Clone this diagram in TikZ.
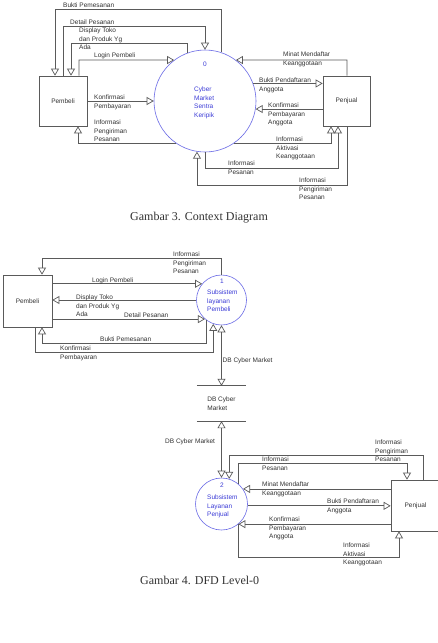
\documentclass[tikz,border=0pt]{standalone}
\usepackage{fontspec}
\setmainfont{Liberation Serif}
\newfontfamily\arialf{Liberation Sans}
\usetikzlibrary{arrows.meta}
\definecolor{procblue}{RGB}{105,105,230}
\definecolor{proctext}{RGB}{60,60,215}
\definecolor{linegray}{RGB}{90,90,90}
\definecolor{txtgray}{RGB}{50,50,50}
\begin{document}
\begin{tikzpicture}[x=1pt,y=-1pt,
  lbl/.style={font=\arialf\fontsize{6.5}{8.5}\selectfont, text=txtgray, inner sep=0pt, anchor=north west, align=left},
  ent/.style={draw=linegray, line width=0.7pt, rectangle, inner sep=0pt, font=\arialf\fontsize{6.5}{8.5}\selectfont, text=txtgray},
  proc/.style={draw=procblue, line width=0.6pt, circle, inner sep=0pt},
  ptxt/.style={font=\arialf\fontsize{6.5}{8.5}\selectfont, text=proctext, inner sep=0pt, align=left},
  dflow/.style={draw=linegray, line width=0.7pt, -{Triangle[open, length=7pt, width=8pt]}},
  bflow/.style={draw=linegray, line width=0.7pt, {Triangle[open, length=7pt, width=8pt]}-{Triangle[open, length=7pt, width=8pt]}},
  stline/.style={draw=linegray, line width=0.7pt},
  captxt/.style={font=\fontsize{12}{14}\selectfont, text=txtgray, inner sep=0pt}
]
\fill[white] (0,0) rectangle (437,643);
\useasboundingbox (0,0) rectangle (437,643);

% ================= Context diagram =================
\node[ent, minimum width=48pt, minimum height=50pt] (pb0) at (63,101) {Pembeli};
\node[proc, minimum size=102pt] (p0) at (205,101) {};
\node[ptxt, anchor=north] (t0) at (205,62) {0};
\node[ptxt, anchor=north west] (t0b) at (194,87) {Cyber\\Market\\Sentra\\Keripik};
\node[ent, minimum width=47pt, minimum height=50pt] (pj0) at (346.5,101) {Penjual};

\coordinate (b1) at (55,9);
\draw[dflow] (p0.72) |- (b1) -- (b1 |- pb0.north);
\node[lbl] (lb1) at (63,3) {Bukti Pemesanan};

\coordinate (d1) at (63,26);
\draw[dflow] (d1 |- pb0.north) -- (d1) -| (p0.north);
\node[lbl] (ld1) at (70,20) {Detail Pesanan};

\coordinate (e1) at (71,43);
\draw[dflow] (p0.110) |- (e1) -- (e1 |- pb0.north);
\node[lbl] (le1) at (79,28) {Display Toko\\dan Produk Yg\\Ada};

\coordinate (l1) at (79,60);
\draw[dflow] (l1 |- pb0.north) -- (l1) -- (p0.127);
\node[lbl] (ll1) at (94,53) {Login Pembeli};

\draw[dflow] (pb0.east) -- (p0.west);
\node[lbl] (lk1) at (94,95) {Konfirmasi\\Pembayaran};

\coordinate (i1) at (78,143);
\draw[dflow] (p0.235) -- (p0.235 -| i1) -- (i1 |- pb0.south);
\node[lbl] (li1) at (94,120) {Informasi\\Pengiriman\\Pesanan};

\coordinate (m1) at (347,60);
\draw[dflow] (m1 |- pj0.north) -- (m1) -- (p0.53);
\node[lbl] (lm1) at (283,52) {Minat Mendaftar\\Keanggotaan};

\draw[dflow] (p0.20) -- (p0.20 -| pj0.west);
\node[lbl] (lbp1) at (259,78) {Bukti Pendaftaran\\Anggota};

\draw[dflow] (p0.351 -| pj0.west) -- (p0.351);
\node[lbl] (lka1) at (268,103) {Konfirmasi\\Pembayaran\\Anggota};

\coordinate (a1) at (331,143);
\draw[dflow] (p0.305) -- (p0.305 -| a1) -- (a1 |- pj0.south);
\node[lbl] (la1) at (276,137) {Informasi\\Aktivasi\\Keanggotaan};

\coordinate (q1) at (338,168);
\draw[dflow] (p0.south) |- (q1) -- (q1 |- pj0.south);
\node[lbl] (lq1) at (228,161) {Informasi\\Pesanan};

\coordinate (r1) at (347,185);
\draw[dflow] (r1 |- pj0.south) -- (r1) -| (p0.261);
\node[lbl] (lr1) at (299,178) {Informasi\\Pengiriman\\Pesanan};

\node[captxt, anchor=base west] (c3) at (130,220) {Gambar 3. Context Diagram};

% ================= DFD Level-0 =================
\node[ent, minimum width=49pt, minimum height=52pt] (pb1) at (27.5,301) {Pembeli};
\node[proc, minimum size=50pt] (p1) at (221.5,300) {};
\node[ptxt, anchor=north] (t1) at (222,279) {1};
\node[ptxt, anchor=north west] (t1b) at (207,290) {Subsistem\\layanan\\Pembeli};

\coordinate (f1) at (42,258);
\draw[dflow] (p1.north) |- (f1) -- (f1 |- pb1.north);
\node[lbl] (lf1) at (173,252) {Informasi\\Pengiriman\\Pesanan};

\draw[dflow] (p1.140 -| pb1.east) -- (p1.140);
\node[lbl] (lg1) at (92,278) {Login Pembeli};

\draw[dflow] (p1.west) -- (p1.west -| pb1.east);
\node[lbl] (lh1) at (76,295) {Display Toko\\dan Produk Yg\\Ada};

\draw[dflow] (p1.229 -| pb1.east) -- (p1.229);
\node[lbl] (lj1) at (124,313) {Detail Pesanan};

\coordinate (g1) at (42,343);
\draw[dflow] (p1.234) |- (g1) -- (g1 |- pb1.south);
\node[lbl] (lg2) at (100,337) {Bukti Pemesanan};

\coordinate (k1) at (35,352);
\draw[dflow] (k1 |- pb1.south) -- (k1) -| (p1.251);
\node[lbl] (lk2) at (60,346) {Konfirmasi\\Pembayaran};

\node[inner sep=0pt, minimum width=49pt, minimum height=35pt, font=\arialf\fontsize{6.5}{8.5}\selectfont, text=txtgray, align=left] (db) at (221.5,403.5) {DB Cyber\\Market};
\draw[stline] (db.north west) -- (db.north east);
\draw[stline] (db.south west) -- (db.south east);

\draw[bflow] (p1.south) -- (db.north);
\node[lbl] (ldb1) at (222.5,358) {DB Cyber Market};

\node[proc, minimum size=52pt] (p2) at (221.5,504) {};
\node[ptxt, anchor=north] (t2) at (222,483) {2};
\node[ptxt, anchor=north west] (t2b) at (207,495) {Subsistem\\Layanan\\Penjual};

\draw[bflow] (db.south) -- (p2.north);
\node[lbl] (ldb2) at (165,439) {DB Cyber Market};

\node[ent, minimum width=49pt, minimum height=51pt] (pj1) at (415.5,505.5) {Penjual};

\coordinate (n1) at (423,455);
\draw[dflow] (n1 |- pj1.north) -- (n1) -| (p2.73);
\node[lbl] (ln1) at (375,440) {Informasi\\Pengiriman\\Pesanan};

\coordinate (o1) at (407,463);
\draw[dflow] (p2.51) |- (o1) -- (o1 |- pj1.north);
\node[lbl] (lo1) at (262,457) {Informasi\\Pesanan};

\draw[dflow] (p2.35 -| pj1.west) -- (p2.35);
\node[lbl] (lm2) at (262,482) {Minat Mendaftar\\Keanggotaan};

\draw[dflow] (p2.356) -- (p2.356 -| pj1.west);
\node[lbl] (lbp2) at (327,499) {Bukti Pendaftaran\\Anggota};

\draw[dflow] (p2.310 -| pj1.west) -- (p2.310);
\node[lbl] (lka2) at (269,517) {Konfirmasi\\Pembayaran\\Anggota};

\coordinate (v1) at (399,557);
\draw[dflow] (p2.309) |- (v1) -- (v1 |- pj1.south);
\node[lbl] (lv1) at (343,543) {Informasi\\Aktivasi\\Keanggotaan};

\node[captxt, anchor=base west] (c4) at (140,584) {Gambar 4. DFD Level-0};
\end{tikzpicture}
\end{document}
